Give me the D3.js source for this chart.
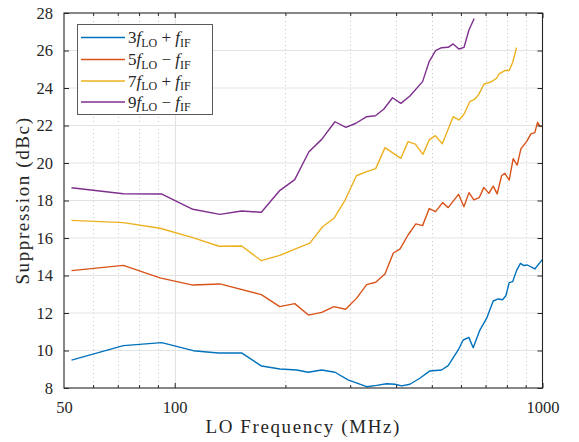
<!DOCTYPE html>
<html>
<head>
<meta charset="utf-8">
<script src="https://cdn.jsdelivr.net/npm/d3@7"></script>
<style>
  html, body { margin: 0; padding: 0; background: #fff; }
  svg { display: block; }
  svg text { font-family: 'Liberation Serif' !important; }
</style>
</head>
<body>
<svg id="chart" width="579" height="442" font-family="Liberation Serif"></svg>
<script>
// ---------------- data ----------------
const seriesNames = ["3fLO+fIF", "5fLO-fIF", "7fLO+fIF", "9fLO-fIF"];
const seriesColors = ["#0072BD", "#D95319", "#EDB120", "#7E2F8E"];

const freq3 = [52.4, 72.5, 92.2, 112.3, 131.4, 152, 172.3, 193.3, 214.6, 230.7, 250.9, 272.7, 296, 332.5, 354, 376.9, 397, 414, 436, 464, 494, 531.6, 554, 590, 608.6, 630.6, 648, 675.6, 704.6, 734.5, 758, 778.7, 795, 811.7, 829.5, 850, 871, 890, 910, 953, 1000];
const supp3 = [9.49, 10.26, 10.42, 9.99, 9.87, 9.87, 9.17, 9.01, 8.96, 8.84, 8.96, 8.84, 8.43, 8.07, 8.14, 8.23, 8.20, 8.11, 8.20, 8.52, 8.91, 8.96, 9.19, 10.03, 10.56, 10.70, 10.15, 11.09, 11.71, 12.64, 12.75, 12.71, 12.92, 13.62, 13.67, 14.26, 14.65, 14.53, 14.56, 14.35, 14.86];

const freq5 = [52.4, 72.5, 91.2, 112, 132.7, 172, 193, 212, 231, 251, 271, 291.6, 312, 332.5, 352, 373, 393, 409.5, 431, 452.5, 472, 492, 512, 535, 554, 591, 611.5, 631, 650.5, 672.7, 692.7, 714.6, 734.5, 753, 774, 790, 811.7, 832.5, 853.5, 873.4, 905, 930, 953, 969.5, 983.5, 1000];
const supp5 = [14.26, 14.54, 13.87, 13.49, 13.55, 12.98, 12.34, 12.50, 11.89, 12.03, 12.34, 12.20, 12.78, 13.51, 13.64, 14.08, 15.20, 15.41, 16.16, 16.75, 16.66, 17.57, 17.41, 17.89, 17.62, 18.33, 17.67, 18.42, 18.03, 18.15, 18.70, 18.38, 18.77, 18.35, 19.32, 19.45, 19.09, 20.23, 19.89, 20.75, 21.14, 21.55, 21.62, 22.17, 21.97, 21.94];

const freq7 = [52.4, 72.5, 91.2, 112, 132, 152, 172, 193, 214.6, 233, 252.4, 271, 290, 312, 332.5, 352, 373, 412, 431, 451, 473, 492, 511, 534, 571.6, 593.7, 612, 634.5, 655, 671, 692.7, 727, 750, 762, 790, 811.7, 829.5, 850];
const supp7 = [16.94, 16.82, 16.52, 16.02, 15.56, 15.57, 14.79, 15.07, 15.45, 15.73, 16.60, 17.05, 17.99, 19.32, 19.54, 19.70, 20.82, 20.25, 21.14, 21.01, 20.46, 21.23, 21.46, 21.03, 22.47, 22.29, 22.61, 23.27, 23.41, 23.66, 24.20, 24.34, 24.52, 24.75, 24.93, 24.93, 25.36, 26.15];

const freq9 = [52.4, 72.5, 92, 112, 132.7, 152, 172, 192.5, 212, 231.7, 251, 272.7, 292, 311, 332.5, 351.5, 370.5, 391, 412, 436, 472, 492, 512, 531.6, 554, 571.6, 592.5, 612, 631, 652];
const supp9 = [18.68, 18.36, 18.35, 17.53, 17.26, 17.44, 17.37, 18.51, 19.11, 20.6, 21.26, 22.20, 21.90, 22.12, 22.47, 22.52, 22.88, 23.48, 23.18, 23.57, 24.34, 25.41, 25.99, 26.15, 26.17, 26.35, 26.08, 26.17, 27.09, 27.71];

const xMajorTicks = [100, 1000];
const xMinorTicks = [60, 70, 80, 90, 200, 300, 400, 500, 600, 700, 800, 900];
const xTickLabels = [50, 100, 1000];
const yTicks = [8, 10, 12, 14, 16, 18, 20, 22, 24, 26, 28];

const xLabel = "LO Frequency (MHz)";
const yLabel = "Suppression (dBc)";

// legend label parts: [coef, sign]
const legendParts = [["3", "+"], ["5", "\u2212"], ["7", "+"], ["9", "\u2212"]];

const allSeries = [
  { f: freq3, s: supp3 },
  { f: freq5, s: supp5 },
  { f: freq7, s: supp7 },
  { f: freq9, s: supp9 }
];

// ---------------- layout ----------------
const FONT = "Liberation Serif";
const L = 64, R = 542.5, T = 13, B = 388;
const svg = d3.select("#chart");

const x = d3.scaleLog().domain([50, 1000]).range([L, R]);
const y = d3.scaleLinear().domain([8, 28]).range([B, T]);

// grid
const grid = svg.append("g");
grid.selectAll("line.minx").data(xMinorTicks).join("line")
  .attr("x1", d => Math.round(x(d)) + 0.5).attr("x2", d => Math.round(x(d)) + 0.5)
  .attr("y1", T).attr("y2", B)
  .attr("stroke", "#c6c6c6").attr("stroke-width", 1).attr("stroke-dasharray", "1,3");
grid.selectAll("line.majx").data([100]).join("line")
  .attr("x1", d => Math.round(x(d)) + 0.5).attr("x2", d => Math.round(x(d)) + 0.5)
  .attr("y1", T).attr("y2", B)
  .attr("stroke", "#e3e3e3").attr("stroke-width", 1.2);
grid.selectAll("line.majy").data(yTicks.slice(1, -1)).join("line")
  .attr("x1", L).attr("x2", R)
  .attr("y1", d => y(d)).attr("y2", d => y(d))
  .attr("stroke", "#e3e3e3").attr("stroke-width", 1.2);

// clip
svg.append("clipPath").attr("id", "clip")
  .append("rect").attr("x", L).attr("y", T).attr("width", R - L).attr("height", B - T);

const line = d3.line().x(d => x(d[0])).y(d => y(d[1]));
const lines = svg.append("g").attr("clip-path", "url(#clip)");
allSeries.forEach((ser, i) => {
  const pts = ser.f.map((f, j) => [f, ser.s[j]]);
  lines.append("path").datum(pts)
    .attr("d", line)
    .attr("fill", "none")
    .attr("stroke", seriesColors[i])
    .attr("stroke-width", 1.4)
    .attr("stroke-linejoin", "round");
});

// axes
const axisColor = "#262626";
function styleAxis(g) {
  g.attr("font-family", FONT).attr("font-size", 16.5);
  g.select(".domain").remove();
  g.selectAll(".tick line").attr("stroke", axisColor).attr("stroke-width", 1);
  g.selectAll(".tick text").attr("fill", axisColor);
}
// bottom major
svg.append("g").attr("transform", `translate(0,${B})`)
  .call(d3.axisBottom(x).tickValues(xTickLabels).tickSizeInner(-5).tickSizeOuter(0)
    .tickPadding(13).tickFormat(d3.format("d")))
  .call(styleAxis)
  .call(g => g.selectAll(".tick").filter(d => d === 50).select("line").remove());
// bottom minor
svg.append("g").attr("transform", `translate(0,${B})`)
  .call(d3.axisBottom(x).tickValues(xMinorTicks).tickSizeInner(-3).tickSizeOuter(0).tickFormat(""))
  .call(styleAxis);
// top major + minor
svg.append("g").attr("transform", `translate(0,${T})`)
  .call(d3.axisTop(x).tickValues(xMajorTicks).tickSizeInner(-5).tickSizeOuter(0).tickFormat(""))
  .call(styleAxis);
svg.append("g").attr("transform", `translate(0,${T})`)
  .call(d3.axisTop(x).tickValues(xMinorTicks).tickSizeInner(-3).tickSizeOuter(0).tickFormat(""))
  .call(styleAxis);
// left
svg.append("g").attr("transform", `translate(${L},0)`)
  .call(d3.axisLeft(y).tickValues(yTicks).tickSizeInner(-5).tickSizeOuter(0).tickPadding(11)
    .tickFormat(d3.format("d")))
  .call(styleAxis);
// right
svg.append("g").attr("transform", `translate(${R},0)`)
  .call(d3.axisRight(y).tickValues(yTicks).tickSizeInner(-5).tickSizeOuter(0).tickFormat(""))
  .call(styleAxis);

// frame
svg.append("rect").attr("x", L).attr("y", T).attr("width", R - L).attr("height", B - T)
  .attr("fill", "none").attr("stroke", axisColor).attr("stroke-width", 1.1);

// axis labels
svg.append("text").attr("x", (L + R) / 2).attr("y", 433)
  .attr("text-anchor", "middle").attr("fill", axisColor)
  .attr("font-family", FONT).attr("font-size", 19).attr("letter-spacing", 1.6)
  .text(xLabel);
svg.append("text").attr("transform", `translate(29,${(T + B) / 2}) rotate(-90)`)
  .attr("text-anchor", "middle").attr("fill", axisColor)
  .attr("font-family", FONT).attr("font-size", 19).attr("letter-spacing", 1.6)
  .text(yLabel);

// legend
const leg = svg.append("g");
leg.append("rect").attr("x", 77.5).attr("y", 24.5).attr("width", 135).attr("height", 90)
  .attr("fill", "#fff").attr("stroke", "#5a5a5a").attr("stroke-width", 1);
const rowY = [37.5, 59.5, 81, 102];
legendParts.forEach((p, i) => {
  const yy = rowY[i];
  leg.append("line").attr("x1", 81).attr("x2", 125).attr("y1", yy).attr("y2", yy)
    .attr("stroke", seriesColors[i]).attr("stroke-width", 1.5);
  const t = leg.append("text").attr("x", 128).attr("y", yy + 5.5)
    .attr("fill", axisColor)
    .attr("font-family", FONT).attr("font-size", 17);
  t.append("tspan").text(p[0]);
  t.append("tspan").attr("font-style", "italic").text("f");
  t.append("tspan").attr("dy", 3.5).attr("font-size", 12).text("LO");
  t.append("tspan").attr("dy", -3.5).text(" " + p[1] + " ");
  t.append("tspan").attr("font-style", "italic").text("f");
  t.append("tspan").attr("dy", 3.5).attr("font-size", 12).text("IF");
});
</script>
</body>
</html>
